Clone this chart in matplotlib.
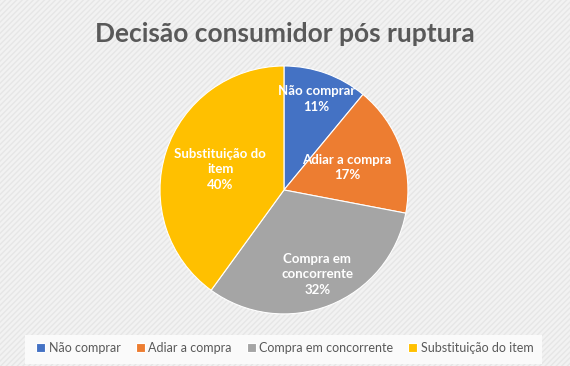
import numpy as np
import matplotlib.pyplot as plt
from matplotlib.patches import Rectangle

categorias = ["Não comprar", "Adiar a compra", "Compra em concorrente", "Substituição do item"]
rotulos = ["Não comprar", "Adiar a compra", "Compra em\nconcorrente", "Substituição do\nitem"]
valores = [11, 17, 32, 40]
cores = ["#4472C4", "#ED7D31", "#A5A5A5", "#FFC000"]
raios_rotulo = [0.78, 0.54, 0.73, 0.54]

plt.rcParams['font.family'] = ['Lato', 'DejaVu Sans']

fig = plt.figure(figsize=(5.7, 3.66), dpi=100)
fig.patch.set_facecolor("#F2F2F2")
# fundo com riscas diagonais suaves
fundo = Rectangle((0, 0), 1, 1, transform=fig.transFigure, facecolor="#F2F2F2",
                  edgecolor="#E6E6E6", hatch="//////", linewidth=0, zorder=-10)
fig.patches.append(fundo)

ax = fig.add_axes([0.2807, 0.142, 0.435, 0.678])
fatias, _ = ax.pie(valores, colors=cores, startangle=90, counterclock=False,
                   radius=1, wedgeprops=dict(edgecolor="white", linewidth=0.8))
ax.set_xlim(-1, 1)
ax.set_ylim(-1, 1)
ax.set_aspect("equal")

total = sum(valores)
for f, rot, v, r in zip(fatias, rotulos, valores, raios_rotulo):
    ang = np.deg2rad((f.theta1 + f.theta2) / 2)
    x, y = r * np.cos(ang), r * np.sin(ang)
    ax.text(x, y, f"{rot}\n{round(100 * v / total)}%", ha="center", va="center",
            color="white", fontsize=9.5, fontweight="bold", linespacing=1.35)

fig.text(0.5, 0.907, "Decisão consumidor pós ruptura", ha="center", va="center",
         fontsize=19, fontweight="bold", color="#595959")

# legenda
fig.patches.append(Rectangle((0.044, 0.005), 0.907, 0.08, transform=fig.transFigure,
                             facecolor="#FAFAFA", edgecolor="none", zorder=-5))
leg = fig.legend(fatias, categorias, loc="center", bbox_to_anchor=(0.5, 0.049), ncol=4,
                 frameon=False, fontsize=9, handlelength=0.7, handleheight=0.7,
                 handletextpad=0.3, columnspacing=1.2, labelcolor="#595959")

fig.savefig("out.png", dpi=100, facecolor=fig.get_facecolor())
